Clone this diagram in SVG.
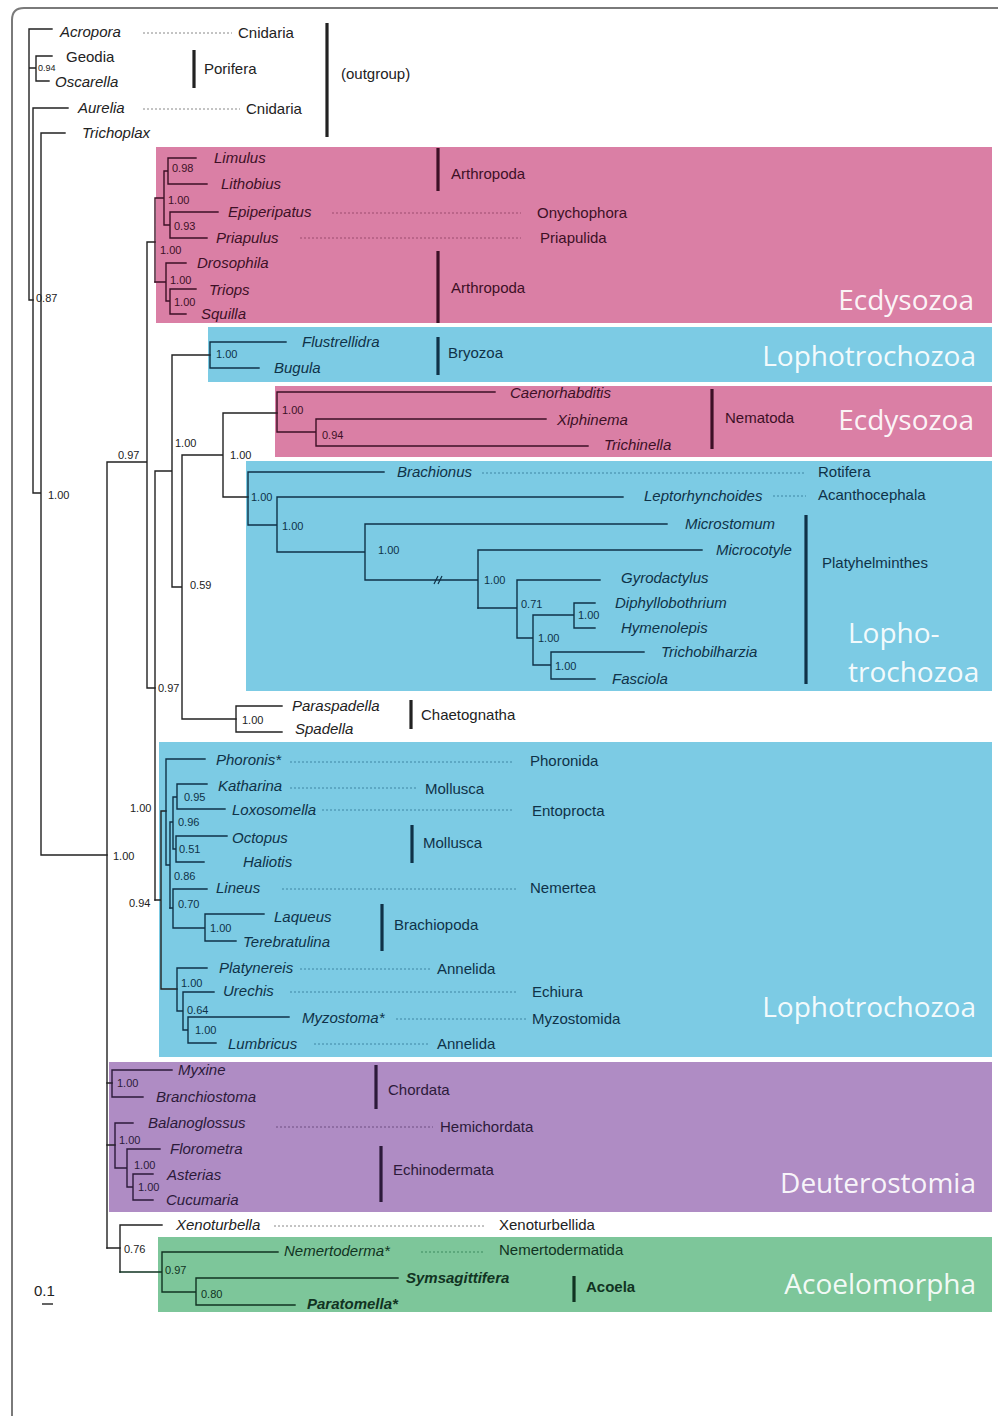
<svg xmlns="http://www.w3.org/2000/svg" width="998" height="1416" viewBox="0 0 998 1416">
<style>
text{font-family:"Liberation Sans",Arial,sans-serif}
.t{font-size:15px;font-style:italic}
.r{font-size:15px}
.s{font-size:11px}
.xs{font-size:9px}
.b{font-weight:bold}
.big{font-family:"Open Sans","Liberation Sans",sans-serif;font-size:28px;fill:#ffffff;fill-opacity:0.93}
.br{fill:none;stroke-width:1.4;stroke-linecap:square}
.dot{stroke-dasharray:2 2;stroke-width:1;fill:none}
.bar{stroke-width:3.2;fill:none}
.k{fill:#222}.kl{stroke:#222}.kd{stroke:#888}
.p{fill:#3d1026}.pl{stroke:#3d1026}.pd{stroke:#9c4d6e}
.u{fill:#0f3248}.ul{stroke:#0f3248}.ud{stroke:#3f86a4}
.v{fill:#2c1a3a}.vl{stroke:#2c1a3a}.vd{stroke:#6e4f82}
.g{fill:#113322}.gl{stroke:#113322}.gd{stroke:#3d8a5e}
</style>
<rect width="998" height="1416" fill="#ffffff"/>
<path d="M12,1416 V20 Q12,8 24,8 H998" fill="none" stroke="#7a7a7a" stroke-width="2"/>

<g id="boxes">
<rect id="box-ecdy1" x="156" y="147" width="836" height="176" fill="#da7fa5"/>
<rect id="box-bryo" x="208" y="327" width="784" height="55" fill="#7ccbe4"/>
<rect id="box-nema" x="275" y="386" width="717" height="71" fill="#da7fa5"/>
<rect id="box-platy" x="246" y="461" width="746" height="230" fill="#7ccbe4"/>
<rect id="box-lopho" x="159" y="742" width="833" height="315" fill="#7ccbe4"/>
<rect id="box-deut" x="109" y="1062" width="883" height="150" fill="#af8cc4"/>
<rect id="box-acoelo" x="158" y="1237" width="834" height="75" fill="#7dc69a"/>
</g>

<g id="clade-labels">
<text class="big" x="974" y="310" text-anchor="end">Ecdysozoa</text>
<text class="big" x="976" y="366" text-anchor="end">Lophotrochozoa</text>
<text class="big" x="974" y="430" text-anchor="end">Ecdysozoa</text>
<text class="big" x="848" y="643">Lopho-</text>
<text class="big" x="848" y="682">trochozoa</text>
<text class="big" x="976" y="1017" text-anchor="end">Lophotrochozoa</text>
<text class="big" x="976" y="1193" text-anchor="end">Deuterostomia</text>
<text class="big" x="976" y="1294" text-anchor="end">Acoelomorpha</text>
</g>

<g id="connectors">
<g class="br kl">
<path d="M29,29 V300 M29,29 H52 M29,68 H36 M36,56 V81 M36,56 H52 M36,81 H49 M29,300 H33"/>
<path d="M33,108 V493 M33,108 H68 M33,493 H41 M41,133 V855 M41,133 H65 M41,855 H107"/>
<path d="M107,462 V1248 M107,462 H147 M147,242 V688 M147,242 H155 M147,688 H155"/>
<path d="M155,471 V900 M155,471 H172 M172,355 V587 M172,355 H210 M172,587 H182 M182,455 V719 M182,455 H223 M223,413 V497 M223,413 H277 M223,497 H248 M182,719 H236"/>
<path d="M155,900 H161 M161,811 V989 M161,811 H166 M161,989 H177 M107,1083 H112 M107,1145 H115 M107,1248 H120"/>
</g>
<g class="br pl">
<path d="M155,198 V282 M155,198 H164 M164,171 V225 M164,171 H168 M168,158 V184 M168,158 H196 M168,184 H207 M164,225 H170 M170,212 V238 M170,212 H218 M170,238 H207"/>
<path d="M155,282 H166 M166,263 V301 M166,263 H186 M166,301 H170 M170,289 V314 M170,289 H196 M170,314 H186"/>
<path d="M277,392 V432 M277,392 H495 M277,432 H316 M316,419 V446 M316,419 H546 M316,446 H588"/>
</g>
<g class="br ul">
<path d="M210,342 V368 M210,342 H286 M210,368 H259"/>
<path d="M248,472 V525 M248,472 H384 M248,525 H277 M277,497 V552 M277,497 H623 M277,552 H365 M365,524 V580 M365,524 H667 M365,580 H478 M478,550 V608 M478,550 H702"/>
<path d="M478,608 H517 M517,580 V638 M517,580 H600 M517,638 H533 M533,615 V665 M533,615 H574 M574,603 V628 M574,603 H595 M574,628 H595 M533,665 H551 M551,652 V679 M551,652 H644 M551,679 H595"/>
<path d="M166,759 V865 M166,759 H205 M166,865 H170 M170,822 V908 M170,822 H173 M173,797 V849 M173,797 H177 M177,784 V809 M177,784 H207 M177,809 H225 M173,849 H176 M176,836 V862 M176,836 H227 M176,862 H204"/>
<path d="M170,908 H173 M173,889 V928 M173,889 H207 M173,928 H205 M205,914 V941 M205,914 H264 M205,941 H236"/>
<path d="M177,968 V1011 M177,968 H207 M177,1011 H183 M183,992 V1030 M183,992 H214 M183,1030 H188 M188,1017 V1043 M188,1017 H289 M188,1043 H216"/>
</g>
<g class="br kl">
<path d="M236,706 V732 M236,706 H282 M236,732 H282"/>
</g>
<g class="br vl">
<path d="M112,1070 V1097 M112,1070 H172 M112,1097 H143 M115,1123 V1168 M115,1123 H133 M115,1168 H127 M127,1149 V1187 M127,1149 H160 M127,1187 H133 M133,1174 V1200 M133,1174 H153 M133,1200 H153"/>
</g>
<g class="br kl">
<path d="M120,1225 V1272 M120,1225 H162"/>
</g>
<g class="br gl">
<path d="M120,1272 H162 M162,1252 V1292 M162,1252 H278 M162,1292 H196 M196,1278 V1305 M196,1278 H398 M196,1305 H295"/>
</g>
<g fill="none" stroke="#0f3248" stroke-width="1.2">
<path d="M434,584 L438,576 M438,584 L442,576"/>
</g>
</g>

<g id="outgroup">
<g id="n-acropora"><text class="t k" x="60" y="37">Acropora</text><path class="dot kd" d="M143,33 H232"/><text class="r k" x="238" y="38">Cnidaria</text></g>
<g id="n-geodia"><text class="r k" x="66" y="62">Geodia</text></g>
<g id="n-oscarella"><text class="t k" x="55" y="87">Oscarella</text></g>
<g id="n-0.94a"><text class="xs k" x="38" y="71">0.94</text></g>
<g id="n-porifera"><path class="bar kl" d="M194,50 V88"/><text class="r k" x="204" y="74">Porifera</text></g>
<g id="n-aurelia"><text class="t k" x="78" y="113">Aurelia</text><path class="dot kd" d="M143,109 H240"/><text class="r k" x="246" y="114">Cnidaria</text></g>
<g id="n-trichoplax"><text class="t k" x="82" y="138">Trichoplax</text></g>
<g id="n-outgroup"><path class="bar kl" d="M327,23 V137"/><text class="r k" x="341" y="79">(outgroup)</text></g>
<g id="n-root-labels"><text class="s k" x="36" y="302">0.87</text><text class="s k" x="48" y="499">1.00</text><text class="s k" x="113" y="860">1.00</text><text class="s k" x="118" y="459">0.97</text></g>
</g>

<g id="ecdysozoa-1">
<g id="n-limulus"><text class="t p" x="214" y="163">Limulus</text></g>
<g id="n-lithobius"><text class="t p" x="221" y="189">Lithobius</text></g>
<g id="n-epiperipatus"><text class="t p" x="228" y="217">Epiperipatus</text><path class="dot pd" d="M332,213 H521"/><text class="r p" x="537" y="218">Onychophora</text></g>
<g id="n-priapulus"><text class="t p" x="216" y="243">Priapulus</text><path class="dot pd" d="M300,238 H521"/><text class="r p" x="540" y="243">Priapulida</text></g>
<g id="n-drosophila"><text class="t p" x="197" y="268">Drosophila</text></g>
<g id="n-triops"><text class="t p" x="209" y="295">Triops</text></g>
<g id="n-squilla"><text class="t p" x="201" y="319">Squilla</text></g>
<g id="n-arthropoda1"><path class="bar pl" d="M438,148 V191"/><text class="r p" x="451" y="179">Arthropoda</text></g>
<g id="n-arthropoda2"><path class="bar pl" d="M438,251 V323"/><text class="r p" x="451" y="293">Arthropoda</text></g>
<g id="n-ecdy-support"><text class="s p" x="172" y="172">0.98</text><text class="s p" x="168" y="204">1.00</text><text class="s p" x="174" y="230">0.93</text><text class="s p" x="160" y="254">1.00</text><text class="s p" x="170" y="284">1.00</text><text class="s p" x="174" y="306">1.00</text></g>
</g>

<g id="bryozoa">
<g id="n-flustrellidra"><text class="t u" x="302" y="347">Flustrellidra</text></g>
<g id="n-bugula"><text class="t u" x="274" y="373">Bugula</text></g>
<g id="n-bryozoa"><path class="bar ul" d="M438,337 V375"/><text class="r u" x="448" y="358">Bryozoa</text></g>
<g id="n-bryo-support"><text class="s u" x="216" y="358">1.00</text><text class="s k" x="175" y="447">1.00</text><text class="s k" x="190" y="589">0.59</text><text class="s k" x="230" y="459">1.00</text><text class="s k" x="158" y="692">0.97</text></g>
</g>

<g id="nematoda">
<g id="n-caenorhabditis"><text class="t p" x="510" y="398">Caenorhabditis</text></g>
<g id="n-xiphinema"><text class="t p" x="557" y="425">Xiphinema</text></g>
<g id="n-trichinella"><text class="t p" x="604" y="450">Trichinella</text></g>
<g id="n-nematoda"><path class="bar pl" d="M712,389 V449"/><text class="r p" x="725" y="423">Nematoda</text></g>
<g id="n-nema-support"><text class="s p" x="282" y="414">1.00</text><text class="s p" x="322" y="439">0.94</text></g>
</g>

<g id="platyzoa">
<g id="n-brachionus"><text class="t u" x="397" y="477">Brachionus</text><path class="dot ud" d="M482,473 H806"/><text class="r u" x="818" y="477">Rotifera</text></g>
<g id="n-leptorhynchoides"><text class="t u" x="644" y="501">Leptorhynchoides</text><path class="dot ud" d="M773,496 H806"/><text class="r u" x="818" y="500">Acanthocephala</text></g>
<g id="n-microstomum"><text class="t u" x="685" y="529">Microstomum</text></g>
<g id="n-microcotyle"><text class="t u" x="716" y="555">Microcotyle</text></g>
<g id="n-gyrodactylus"><text class="t u" x="621" y="583">Gyrodactylus</text></g>
<g id="n-diphyllobothrium"><text class="t u" x="615" y="608">Diphyllobothrium</text></g>
<g id="n-hymenolepis"><text class="t u" x="621" y="633">Hymenolepis</text></g>
<g id="n-trichobilharzia"><text class="t u" x="661" y="657">Trichobilharzia</text></g>
<g id="n-fasciola"><text class="t u" x="612" y="684">Fasciola</text></g>
<g id="n-platyhelminthes"><path class="bar ul" d="M806,515 V684"/><text class="r u" x="822" y="568">Platyhelminthes</text></g>
<g id="n-platy-support"><text class="s u" x="251" y="501">1.00</text><text class="s u" x="282" y="530">1.00</text><text class="s u" x="378" y="554">1.00</text><text class="s u" x="484" y="584">1.00</text><text class="s u" x="521" y="608">0.71</text><text class="s u" x="538" y="642">1.00</text><text class="s u" x="578" y="619">1.00</text><text class="s u" x="555" y="670">1.00</text></g>
</g>

<g id="chaetognatha">
<g id="n-paraspadella"><text class="t k" x="292" y="711">Paraspadella</text></g>
<g id="n-spadella"><text class="t k" x="295" y="734">Spadella</text></g>
<g id="n-chaetognatha"><path class="bar kl" d="M411,700 V729"/><text class="r k" x="421" y="720">Chaetognatha</text></g>
<g id="n-chaeto-support"><text class="s k" x="242" y="724">1.00</text></g>
</g>

<g id="lophotrochozoa">
<g id="n-phoronis"><text class="t u" x="216" y="765">Phoronis*</text><path class="dot ud" d="M290,762 H512"/><text class="r u" x="530" y="766">Phoronida</text></g>
<g id="n-katharina"><text class="t u" x="218" y="791">Katharina</text><path class="dot ud" d="M290,788 H418"/><text class="r u" x="425" y="794">Mollusca</text></g>
<g id="n-loxosomella"><text class="t u" x="232" y="815">Loxosomella</text><path class="dot ud" d="M322,810 H514"/><text class="r u" x="532" y="816">Entoprocta</text></g>
<g id="n-octopus"><text class="t u" x="232" y="843">Octopus</text></g>
<g id="n-haliotis"><text class="t u" x="243" y="867">Haliotis</text></g>
<g id="n-mollusca"><path class="bar ul" d="M412,825 V863"/><text class="r u" x="423" y="848">Mollusca</text></g>
<g id="n-lineus"><text class="t u" x="216" y="893">Lineus</text><path class="dot ud" d="M282,889 H516"/><text class="r u" x="530" y="893">Nemertea</text></g>
<g id="n-laqueus"><text class="t u" x="274" y="922">Laqueus</text></g>
<g id="n-terebratulina"><text class="t u" x="243" y="947">Terebratulina</text></g>
<g id="n-brachiopoda"><path class="bar ul" d="M382,904 V951"/><text class="r u" x="394" y="930">Brachiopoda</text></g>
<g id="n-platynereis"><text class="t u" x="219" y="973">Platynereis</text><path class="dot ud" d="M300,969 H431"/><text class="r u" x="437" y="974">Annelida</text></g>
<g id="n-urechis"><text class="t u" x="223" y="996">Urechis</text><path class="dot ud" d="M290,992 H516"/><text class="r u" x="532" y="997">Echiura</text></g>
<g id="n-myzostoma"><text class="t u" x="302" y="1023">Myzostoma*</text><path class="dot ud" d="M396,1019 H526"/><text class="r u" x="532" y="1024">Myzostomida</text></g>
<g id="n-lumbricus"><text class="t u" x="228" y="1049">Lumbricus</text><path class="dot ud" d="M314,1044 H430"/><text class="r u" x="437" y="1049">Annelida</text></g>
<g id="n-lopho-support"><text class="s k" x="130" y="812">1.00</text><text class="s k" x="129" y="907">0.94</text><text class="s u" x="184" y="801">0.95</text><text class="s u" x="178" y="826">0.96</text><text class="s u" x="179" y="853">0.51</text><text class="s u" x="174" y="880">0.86</text><text class="s u" x="178" y="908">0.70</text><text class="s u" x="210" y="932">1.00</text><text class="s u" x="181" y="987">1.00</text><text class="s u" x="187" y="1014">0.64</text><text class="s u" x="195" y="1034">1.00</text></g>
</g>

<g id="deuterostomia">
<g id="n-myxine"><text class="t v" x="178" y="1075">Myxine</text></g>
<g id="n-branchiostoma"><text class="t v" x="156" y="1102">Branchiostoma</text></g>
<g id="n-chordata"><path class="bar vl" d="M376,1065 V1109"/><text class="r v" x="388" y="1095">Chordata</text></g>
<g id="n-balanoglossus"><text class="t v" x="148" y="1128">Balanoglossus</text><path class="dot vd" d="M276,1127 H433"/><text class="r v" x="440" y="1132">Hemichordata</text></g>
<g id="n-florometra"><text class="t v" x="170" y="1154">Florometra</text></g>
<g id="n-asterias"><text class="t v" x="167" y="1180">Asterias</text></g>
<g id="n-cucumaria"><text class="t v" x="166" y="1205">Cucumaria</text></g>
<g id="n-echinodermata"><path class="bar vl" d="M381,1146 V1202"/><text class="r v" x="393" y="1175">Echinodermata</text></g>
<g id="n-deut-support"><text class="s v" x="117" y="1087">1.00</text><text class="s v" x="119" y="1144">1.00</text><text class="s v" x="134" y="1169">1.00</text><text class="s v" x="138" y="1191">1.00</text></g>
</g>

<g id="xenacoelomorpha">
<g id="n-xenoturbella"><text class="t k" x="176" y="1230">Xenoturbella</text><path class="dot kd" d="M274,1226 H484"/><text class="r k" x="499" y="1230">Xenoturbellida</text></g>
<g id="n-nemertoderma"><text class="t g" x="284" y="1256">Nemertoderma*</text><path class="dot gd" d="M421,1252 H484"/><text class="r g" x="499" y="1255">Nemertodermatida</text></g>
<g id="n-symsagittifera"><text class="t b g" x="406" y="1283">Symsagittifera</text></g>
<g id="n-paratomella"><text class="t b g" x="307" y="1309">Paratomella*</text></g>
<g id="n-acoela"><path class="bar gl" d="M574,1276 V1302"/><text class="r b g" x="586" y="1292">Acoela</text></g>
<g id="n-xeno-support"><text class="s k" x="124" y="1253">0.76</text><text class="s g" x="165" y="1274">0.97</text><text class="s g" x="201" y="1298">0.80</text></g>
</g>

<g id="scale-bar">
<text class="r k" x="34" y="1296" font-size="17">0.1</text>
<path d="M42,1304 H53" stroke="#222" stroke-width="1.4"/>
</g>
</svg>
